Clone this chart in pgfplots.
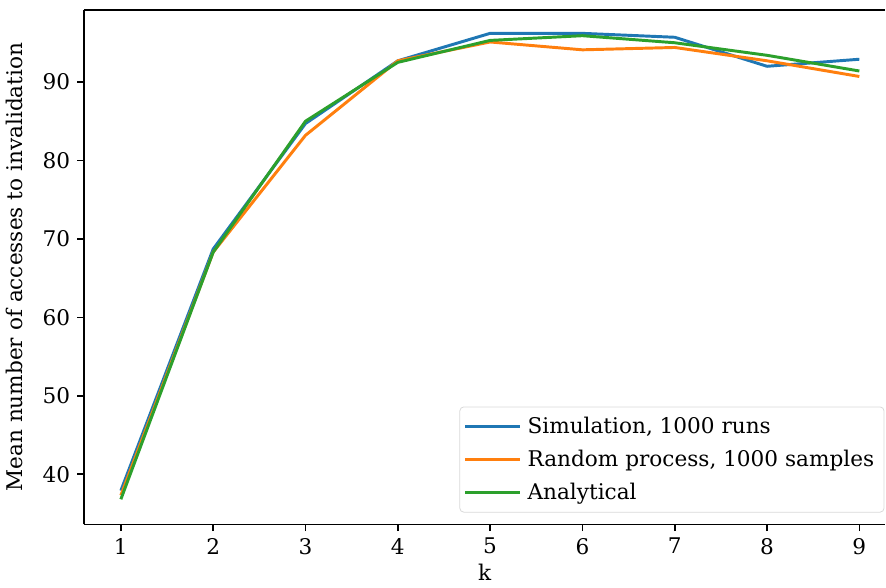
\documentclass[border=0pt]{standalone}
\usepackage{fontspec}
\setmainfont{DejaVu Serif}
\usepackage{pgfplots}
\pgfplotsset{compat=1.18}
\definecolor{c0}{HTML}{1F77B4}
\definecolor{c1}{HTML}{FF7F0E}
\definecolor{c2}{HTML}{2CA02C}
\begin{document}
\begin{tikzpicture}
\begin{axis}[
  scale only axis,
  width=408pt, height=262pt,
  xmin=0.6, xmax=9.28,
  ymin=33.6, ymax=99.2,
  xtick={1,...,9},
  ytick={40,50,...,90},
  axis x line*=box,
  axis y line*=left,
  tick pos=left,
  tick align=outside,
  major tick length=3.5pt,
  tick style={black, line width=0.8pt},
  axis line style={line width=0.8pt},
  /pgf/number format/assume math mode=true,
  ticklabel style={font=\fontsize{11}{13}\selectfont},
  label style={font=\fontsize{11}{13}\selectfont},
  xlabel={k},
  ylabel={Mean number of accesses to invalidation},
  xlabel style={yshift=2pt},
  ylabel style={yshift=3pt},
  legend cell align=left,
  legend style={at={(0.999,0.023)}, anchor=south east,
    font=\fontsize{11}{13}\selectfont,
    draw=black!15, rounded corners=2pt,
    row sep=3pt, inner xsep=2pt, inner ysep=3pt,
    nodes={inner xsep=3pt}},
  legend image code/.code={\draw[#1] (0pt,0pt) -- (23pt,0pt);
    \path (0pt,0pt) -- (28pt,0pt);},
  every axis plot/.append style={line width=1.5pt, line join=round},
]
\addplot[c0] coordinates {
  (1,37.9) (2,68.7) (3,84.7) (4,92.7) (5,96.2) (6,96.2) (7,95.7) (8,92.0) (9,92.9)
};
\addplot[c1] coordinates {
  (1,37.3) (2,68.3) (3,83.2) (4,92.7) (5,95.1) (6,94.1) (7,94.4) (8,92.7) (9,90.7)
};
\addplot[c2] coordinates {
  (1,36.8) (2,68.3) (3,85.0) (4,92.5) (5,95.3) (6,95.9) (7,95.0) (8,93.4) (9,91.4)
};
\legend{Simulation{,} 1000 runs, Random process{,} 1000 samples, Analytical}
\end{axis}
\path ([yshift=5pt]current axis.north);
\end{tikzpicture}
\end{document}
